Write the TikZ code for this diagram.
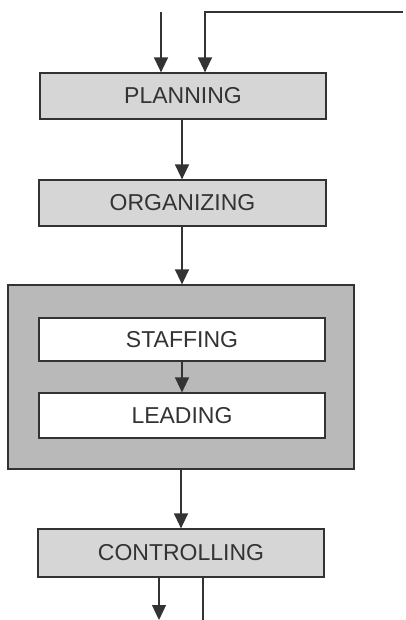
\documentclass[tikz,border=0pt]{standalone}
\usepackage{fontspec}
\setmainfont{Liberation Sans}
\usetikzlibrary{arrows.meta}
\definecolor{ink}{HTML}{333333}
\definecolor{boxfill}{HTML}{D6D6D6}
\definecolor{bigfill}{HTML}{B9B9B9}
\tikzset{
  stagebox/.style={draw=ink, line width=1.2pt, fill=boxfill, text=ink, rectangle, inner sep=0pt,
    font=\fontsize{23}{27}\selectfont},
  innerbox/.style={stagebox, fill=white},
  groupbox/.style={draw=ink, line width=1.2pt, fill=bigfill, rectangle, inner sep=0pt},
  flow/.style={draw=ink, line width=1.3pt, -{Triangle[length=15pt,width=14pt]}},
  plainline/.style={draw=ink, line width=1.3pt}
}
\begin{document}
\begin{tikzpicture}[x=1pt,y=-1pt]
\useasboundingbox (0,0) rectangle (405,620);
\node[stagebox, minimum width=286pt, minimum height=46pt] (plan) at (183,96) {PLANNING};
\node[stagebox, minimum width=287pt, minimum height=46pt] (org) at (182.5,203) {ORGANIZING};
\node[groupbox, minimum width=346pt, minimum height=184pt] (group) at (181,377) {};
\node[innerbox, minimum width=286pt, minimum height=43pt] (staff) at (182,339.5) {STAFFING};
\node[innerbox, minimum width=286pt, minimum height=45pt] (lead) at (182,415.5) {LEADING};
\node[stagebox, minimum width=286pt, minimum height=48pt] (ctrl) at (181,553) {CONTROLLING};
\coordinate (inL) at (161,12);
\coordinate (inR) at (403,12);
\coordinate (corner) at (205,12);
\coordinate (outL) at (159,620);
\coordinate (outR) at (203,620);
\draw[flow] (inL) -- (inL |- plan.north);
\draw[flow] (inR) -- (corner) -- (corner |- plan.north);
\draw[flow] (plan.south -| 182,0) -- (org.north -| 182,0);
\draw[flow] (org.south -| 182,0) -- (group.north -| 182,0);
\draw[flow] (staff.south -| 182,0) -- (lead.north -| 182,0);
\draw[flow] (group.south -| 181,0) -- (ctrl.north -| 181,0);
\draw[flow] (ctrl.south -| outL) -- (outL);
\draw[plainline] (ctrl.south -| outR) -- (outR);
\end{tikzpicture}
\end{document}
